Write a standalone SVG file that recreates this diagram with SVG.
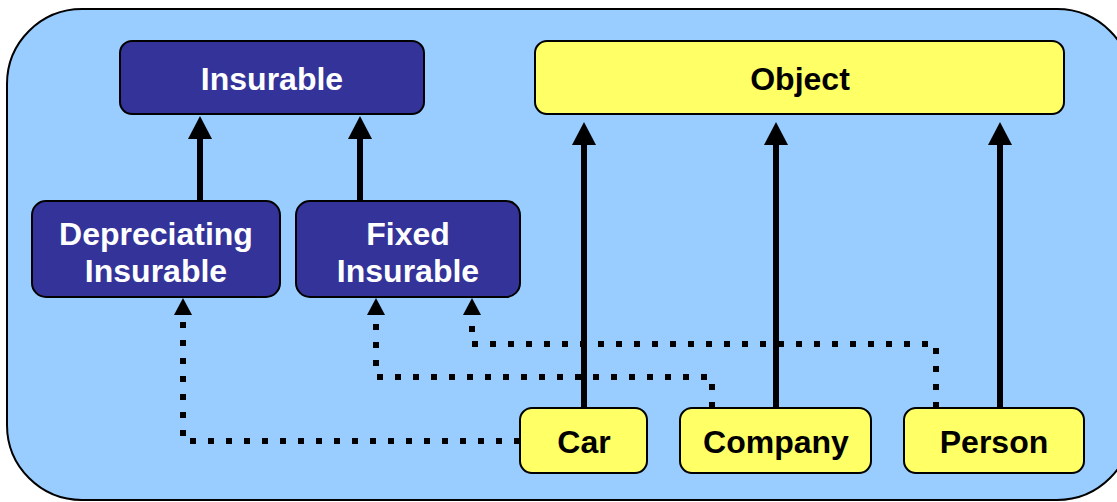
<svg xmlns="http://www.w3.org/2000/svg" width="1117" height="502" viewBox="0 0 1117 502">
<style>
.bg{fill:#99CCFF;stroke:#000;stroke-width:2}
.blue{fill:#333399;stroke:#000;stroke-width:2}
.yel{fill:#FFFF66;stroke:#000;stroke-width:2}
text{font-family:"Liberation Sans",Arial,sans-serif;font-weight:bold;font-size:32px;text-anchor:middle}
.wt{fill:#fff}
.bt{fill:#000}
.solid{fill:none;stroke:#000;stroke-width:6}
.dot{fill:none;stroke:#000;stroke-width:6;stroke-dasharray:6 12}
</style>
<defs>
<marker id="big" markerUnits="userSpaceOnUse" viewBox="0 -12 23 24" markerWidth="23" markerHeight="24" refX="0" refY="0" orient="auto" overflow="visible">
<path d="M0,-12 L23,0 L0,12 Z" fill="#000"/>
</marker>
<marker id="small" markerUnits="userSpaceOnUse" viewBox="0 -9 17 18" markerWidth="17" markerHeight="18" refX="0" refY="0" orient="auto" overflow="visible">
<path d="M0,-9 L17,0 L0,9 Z" fill="#000"/>
</marker>
</defs>
<rect class="bg" x="7" y="9" width="1125" height="491" rx="75"/>
<g id="connectors">
<path class="solid" d="M200,201 V139" marker-end="url(#big)"/>
<path class="solid" d="M360,201 V139" marker-end="url(#big)"/>
<path class="solid" d="M584,408 V145" marker-end="url(#big)"/>
<path class="solid" d="M776,408 V145" marker-end="url(#big)"/>
<path class="solid" d="M1000,408 V145" marker-end="url(#big)"/>
<path class="dot" d="M520,441 H183 V315" marker-end="url(#small)"/>
<path class="dot" d="M712,408 V377 H376 V315" marker-end="url(#small)"/>
<path class="dot" d="M936,408 V344 H472 V315" marker-end="url(#small)"/>
</g>
<g id="insurable">
<rect class="blue" x="120" y="41" width="304" height="73" rx="12"/>
<text class="wt" x="272" y="90">Insurable</text>
</g>
<g id="object">
<rect class="yel" x="535" y="41" width="529" height="73" rx="12"/>
<text class="bt" x="800" y="90">Object</text>
</g>
<g id="depreciating">
<rect class="blue" x="32" y="201" width="248" height="96" rx="14"/>
<text class="wt" x="156" y="245">Depreciating</text>
<text class="wt" x="156" y="282">Insurable</text>
</g>
<g id="fixed">
<rect class="blue" x="296" y="201" width="224" height="96" rx="14"/>
<text class="wt" x="408" y="245">Fixed</text>
<text class="wt" x="408" y="282">Insurable</text>
</g>
<g id="car">
<rect class="yel" x="520" y="408" width="127" height="65" rx="12"/>
<text class="bt" x="584" y="453">Car</text>
</g>
<g id="company">
<rect class="yel" x="680" y="408" width="191" height="65" rx="12"/>
<text class="bt" x="776" y="453">Company</text>
</g>
<g id="person">
<rect class="yel" x="904" y="408" width="180" height="65" rx="12"/>
<text class="bt" x="994" y="453">Person</text>
</g>
</svg>
